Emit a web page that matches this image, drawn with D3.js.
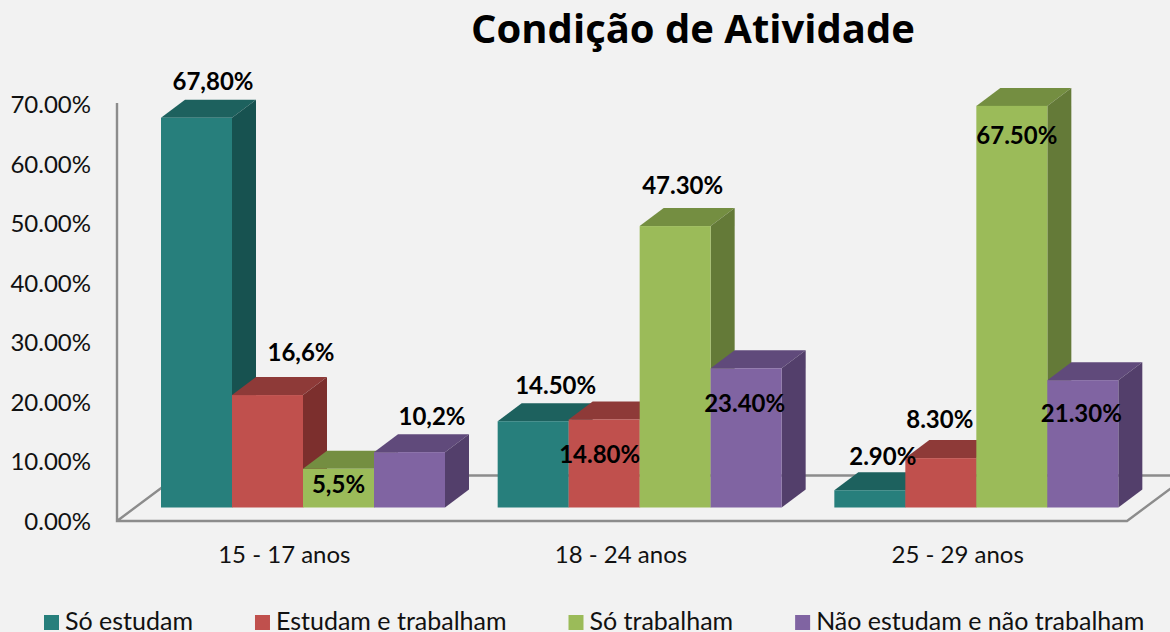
<!DOCTYPE html>
<html>
<head>
<meta charset="utf-8">
<script src="https://cdnjs.cloudflare.com/ajax/libs/d3/7.8.5/d3.min.js"></script>
<style>
  html, body { margin: 0; padding: 0; background: #f2f2f2; overflow: hidden; }
  svg { display: block; font-family: Lato, sans-serif; }
  .tick text { fill: #111; }
</style>
</head>
<body>
<div id="chart"></div>
<script>
const title = 'Condição de Atividade';
const groups = ['15 - 17 anos', '18 - 24 anos', '25 - 29 anos'];
const seriesNames = ['Só estudam', 'Estudam e trabalham', 'Só trabalham', 'Não estudam e não trabalham'];
const yTicks = [0, 10, 20, 30, 40, 50, 60, 70];

// bar heights as drawn (the first group does not follow its printed labels)
const soEstudam = [65.5, 14.5, 2.9];
const estudamTrabalham = [18.9, 14.8, 8.3];
const soTrabalham = [6.5, 47.3, 67.5];
const naoEstudam = [9.3, 23.4, 21.4];

// printed labels, kept as they appear in the picture
const labelsSoEstudam = ['67,80%', '14.50%', '2.90%'];
const labelsEstudamTrabalham = ['16,6%', '14.80%', '8.30%'];
const labelsSoTrabalham = ['5,5%', '47.30%', '67.50%'];
const labelsNaoEstudam = ['10,2%', '23.40%', '21.30%'];

const values = [soEstudam, estudamTrabalham, soTrabalham, naoEstudam];
const labels = [labelsSoEstudam, labelsEstudamTrabalham, labelsSoTrabalham, labelsNaoEstudam];

// hand placed labels: offset from the top centre of the bar, per series then group
const labelNudge = [
  [[16.5, -27.5], [22.5, -27], [13, -25]],
  [[33.5, -34], [-4.5, 43.5], [-1, -30]],
  [[0, 24], [7.5, -32], [5, 38]],
  [[22.5, -27], [-1.5, 44], [-1.5, 42]]
];

// front, top, side
const colors = [
  ['#277f7c', '#1d615e', '#175250'],
  ['#c0504d', '#8e3a38', '#7c2f2d'],
  ['#9bbb59', '#748e41', '#647a38'],
  ['#8064a2', '#604a7b', '#533f6b']
];

const width = 1170;
const height = 632;
const depthX = 24;
const depthY = 18;
const floorX = 61;
const floorY = 45.5;
const axisColor = '#8c8c8c';

const svg = d3.select('#chart')
  .append('svg')
  .attr('width', width)
  .attr('height', height);

const floorLeft = 117;
const floorRight = 1127;
const floorFront = 521;
const barBase = 507.5;

const yAxisScale = d3.scaleLinear().domain([0, 70]).range([floorFront, floorFront - 416.5]);
const yBar = d3.scaleLinear().domain([0, 70]).range([barBase, barBase - 416.5]);
const xAxisScale = d3.scaleBand().domain(groups).range([floorLeft, floorRight]);
const xBars = d3.scaleBand().domain(d3.range(4)).range([44, 44 + 284]);

// floor and wall lines
svg.append('path')
  .attr('d', `M${floorLeft},${floorFront - 418} V${floorFront} H${floorRight} l${floorX},${-floorY} H${floorLeft + floorX} L${floorLeft},${floorFront}`)
  .attr('fill', 'none')
  .attr('stroke', axisColor)
  .attr('stroke-width', 2.4);

// axes
const yAxis = d3.axisLeft(yAxisScale)
  .tickValues(yTicks)
  .tickSize(0)
  .tickPadding(26)
  .tickFormat(d => d3.format('.2f')(d) + '%');

svg.append('g')
  .attr('transform', `translate(${floorLeft},0.7)`)
  .call(yAxis)
  .call(g => g.select('.domain').remove())
  .selectAll('text')
  .style('font-family', 'Lato, sans-serif')
  .style('font-size', '24px');

const xAxis = d3.axisBottom(xAxisScale).tickSize(0).tickPadding(25);

svg.append('g')
  .attr('transform', `translate(-1,${floorFront})`)
  .call(xAxis)
  .call(g => g.select('.domain').remove())
  .selectAll('text')
  .style('font-family', 'Lato, sans-serif')
  .style('font-size', '24px');

// bars, left to right so each one covers the side of the one before
const bars = [];
groups.forEach((g, gi) => {
  seriesNames.forEach((s, si) => {
    bars.push({ group: g, gi, si, value: values[si][gi], label: labels[si][gi], nudge: labelNudge[si][gi] });
  });
});

const barX = d => xAxisScale(d.group) + xBars(d.si);
const bw = xBars.bandwidth();

const bar = svg.append('g').selectAll('g')
  .data(bars)
  .join('g');

bar.append('path')
  .attr('fill', d => colors[d.si][1])
  .attr('d', d => `M${barX(d)},${yBar(d.value)} l${depthX},${-depthY} h${bw} l${-depthX},${depthY} Z`);

bar.append('path')
  .attr('fill', d => colors[d.si][2])
  .attr('d', d => `M${barX(d) + bw},${yBar(d.value)} l${depthX},${-depthY} V${yBar(0) - depthY} l${-depthX},${depthY} Z`);

bar.append('rect')
  .attr('fill', d => colors[d.si][0])
  .attr('x', d => barX(d))
  .attr('y', d => yBar(d.value))
  .attr('width', bw)
  .attr('height', d => yBar(0) - yBar(d.value));

// data labels on top of everything
svg.append('g').selectAll('text')
  .data(bars)
  .join('text')
  .attr('x', d => barX(d) + bw / 2 + d.nudge[0])
  .attr('y', d => yBar(d.value) + d.nudge[1])
  .attr('text-anchor', 'middle')
  .attr('font-size', 24)
  .attr('font-weight', 700)
  .attr('fill', '#000')
  .text(d => d.label);

// title
svg.append('text')
  .attr('x', 693)
  .attr('y', 43)
  .attr('text-anchor', 'middle')
  .attr('font-family', '"Open Sans", sans-serif')
  .attr('font-size', 40)
  .attr('font-weight', 700)
  .attr('fill', '#000')
  .text(title);

// legend, items separated by a fixed gap
let legendX = 44;
seriesNames.forEach((name, i) => {
  svg.append('rect')
    .attr('x', legendX)
    .attr('y', 615)
    .attr('width', 15)
    .attr('height', 15)
    .attr('fill', colors[i][0]);
  const t = svg.append('text')
    .attr('x', legendX + 21)
    .attr('y', 630)
    .attr('font-size', 25)
    .attr('fill', '#111')
    .text(name);
  legendX += 21 + t.node().getComputedTextLength() + 62;
});
</script>
</body>
</html>
